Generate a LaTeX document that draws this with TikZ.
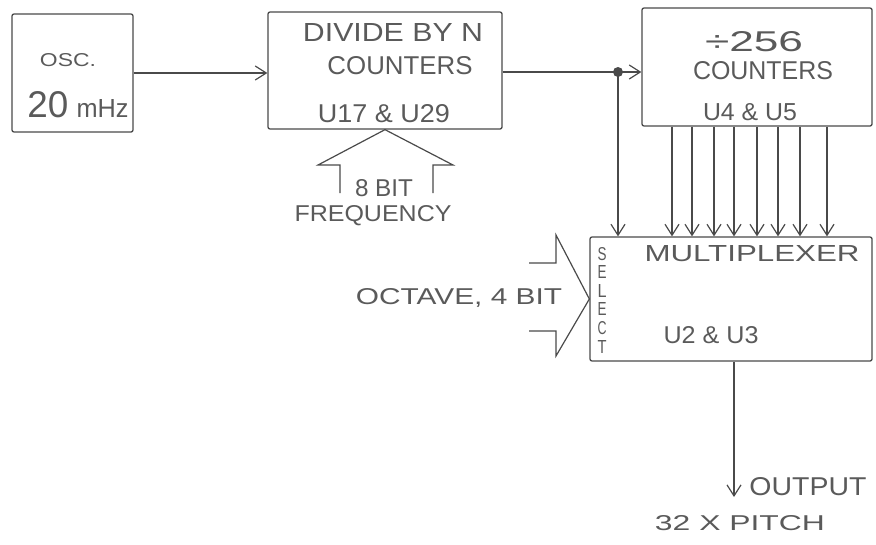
\documentclass[tikz,border=0pt]{standalone}
\usepackage{fontspec}
\setmainfont{Liberation Sans}
\usetikzlibrary{arrows.meta}
\definecolor{ink}{HTML}{4A4A4A}
\definecolor{pen}{HTML}{5A5A5A}
\newcommand\hand[3]{\resizebox{#1pt}{#2pt}{#3}}
\begin{document}
\begin{tikzpicture}[x=1pt,y=-1pt,
  blk/.style={draw=ink,line width=1.3pt,rounded corners=2pt,minimum width=#1},
  lbl/.style={inner sep=0pt,text=pen},
  wire/.style={draw=ink,line width=1.2pt},
  arr/.style={wire,-{Straight Barb[length=11pt,width=14pt,line width=1.2pt]}}]
\useasboundingbox (0,0) rectangle (876,544);
% blocks
\node[blk=121pt,minimum height=118pt] (osc) at (72.5,73) {};
\node[blk=234pt,minimum height=117pt] (div) at (385,70.5) {};
\node[blk=230pt,minimum height=118pt] (cnt) at (757,67) {};
\node[blk=282pt,minimum height=124pt] (mux) at (731,299) {};
% texts
\node[lbl] (t1) at (68,60) {\hand{56}{13}{OSC.}};
\node[lbl] (t2) at (78,105) {\hand{41}{26}{20}\hspace{8pt}\hand{52}{18}{mHz}};
\node[lbl] (t3) at (393,32.5) {\hand{180}{18}{DIVIDE BY N}};
\node[lbl] (t4) at (400,66) {\hand{145}{18}{COUNTERS}};
\node[lbl] (t5) at (384,114) {\hand{132}{18}{U17 \& U29}};
\node[lbl] (t6) at (754,42) {\hand{98}{20}{÷256}};
\node[lbl] (t7) at (763,71) {\hand{140}{18}{COUNTERS}};
\node[lbl] (t8) at (750,112) {\hand{94}{17}{U4 \& U5}};
\node[lbl] (t9) at (752,254) {\hand{215}{16}{MULTIPLEXER}};
\node[lbl] (t10) at (711,335) {\hand{95}{17}{U2 \& U3}};
\foreach \ch [count=\i] in {S,E,L,E,C,T}
  \node[lbl] (sel\i) at (602,{235+\i*18.6}) {\hand{9}{13}{\ch}};
\node[lbl] (t11) at (459,298) {\hand{206}{16}{OCTAVE, 4 BIT}};
\node[lbl] (t12) at (384,188) {\hand{58}{17}{8 BIT}};
\node[lbl] (t13) at (373,216) {\hand{157}{16}{FREQUENCY}};
\node[lbl] (t14) at (808,487) {\hand{117}{18}{OUTPUT}};
\node[lbl] (t15) at (740,523) {\hand{170}{15}{32 X PITCH}};
% connectors
\draw[arr] (osc.east) -- (osc.east -| div.west);
\coordinate (j) at (618,72);
\draw[arr] (div.east |- j) -- (j -| cnt.west);
\fill[ink] (j) circle (5pt);
\draw[arr] (j) -- (j |- mux.north);
\foreach \xx [count=\i] in {672,692,714,734,757,778,800,827}{
  \coordinate (b\i) at (\xx,0);
  \draw[arr] (cnt.south -| b\i) -- (mux.north -| b\i);
}
\coordinate (out) at (734,497);
\draw[arr] (mux.south -| out) -- (out);
% broad input arrows
\draw[wire,line join=miter] (340,193) -- (340,165) -- (318,165) -- (div.south) -- (453,165) -- (433,165) -- (433,193);
\draw[wire,line join=miter] (529,263) -- (556,263) -- (556,235) -- (mux.west) -- (556,356) -- (556,331) -- (529,331);
\end{tikzpicture}
\end{document}
